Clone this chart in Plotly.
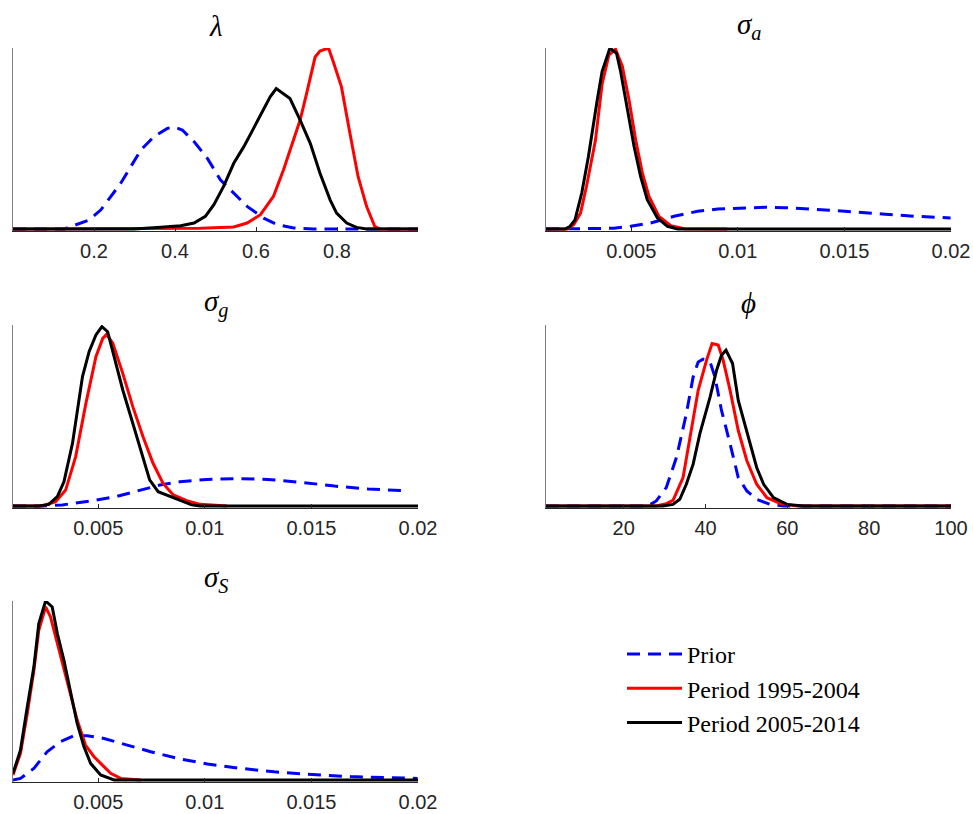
import plotly.graph_objects as go

# ---- lambda ----
lam_prior_x = [0.0, 0.127, 0.188, 0.217, 0.266, 0.316, 0.348, 0.381, 0.400, 0.418, 0.447, 0.480, 0.512, 0.545, 0.578, 0.619, 0.652, 0.693, 0.742, 0.824, 1.0]
lam_prior_y = [0.0, 0.0, 0.05, 0.106, 0.253, 0.437, 0.51, 0.556, 0.563, 0.547, 0.483, 0.39, 0.272, 0.198, 0.125, 0.06, 0.024, 0.006, 0.0, 0.0, 0.0]
lam_p1_x = [0.0, 0.340, 0.463, 0.545, 0.578, 0.611, 0.643, 0.668, 0.693, 0.709, 0.725, 0.746, 0.758, 0.779, 0.791, 0.811, 0.832, 0.852, 0.873, 0.893, 0.906, 1.0]
lam_p1_y = [0.0, 0.0, 0.004, 0.011, 0.033, 0.079, 0.18, 0.327, 0.492, 0.602, 0.749, 0.95, 0.983, 1.0, 0.923, 0.785, 0.528, 0.29, 0.125, 0.015, 0.0, 0.0]
lam_p2_x = [0.0, 0.299, 0.365, 0.414, 0.447, 0.475, 0.496, 0.520, 0.545, 0.570, 0.594, 0.619, 0.635, 0.650, 0.668, 0.684, 0.709, 0.734, 0.758, 0.783, 0.799, 0.824, 0.848, 0.873, 1.0]
lam_p2_y = [0.0, 0.0, 0.009, 0.018, 0.033, 0.07, 0.134, 0.235, 0.363, 0.455, 0.556, 0.657, 0.73, 0.776, 0.749, 0.721, 0.602, 0.473, 0.308, 0.161, 0.088, 0.033, 0.009, 0.0, 0.0]

# ---- sigma_a ----
sa_prior_x = [0.001, 0.00214, 0.00418, 0.00497, 0.00591, 0.00701, 0.00811, 0.00906, 0.0100, 0.01126, 0.0122, 0.01346, 0.01503, 0.01676, 0.01833, 0.01998]
sa_prior_y = [0.0, 0.0, 0.004, 0.015, 0.033, 0.07, 0.098, 0.11, 0.116, 0.12, 0.118, 0.11, 0.098, 0.083, 0.07, 0.061]
sa_p1_x = [0.001, 0.00198, 0.0023, 0.00262, 0.0029, 0.00332, 0.00363, 0.00395, 0.00426, 0.00458, 0.0049, 0.00521, 0.00552, 0.00583, 0.0063, 0.00686, 0.00748, 0.0095]
sa_p1_y = [0.0, 0.0, 0.024, 0.088, 0.236, 0.49, 0.8, 0.96, 0.994, 0.9, 0.71, 0.49, 0.31, 0.18, 0.07, 0.018, 0.002, 0.0]
sa_p2_x = [0.001, 0.0019, 0.00213, 0.00236, 0.00268, 0.00299, 0.0034, 0.00363, 0.0040, 0.00431, 0.0045, 0.00481, 0.00513, 0.00544, 0.00575, 0.00623, 0.0067, 0.00717, 0.02]
sa_p2_y = [0.0, 0.0, 0.015, 0.05, 0.2, 0.4, 0.71, 0.87, 1.0, 0.97, 0.87, 0.66, 0.457, 0.29, 0.162, 0.061, 0.015, 0.0, 0.0]

# ---- sigma_g ----
sg_prior_x = [0.001, 0.00237, 0.00331, 0.00473, 0.00584, 0.00694, 0.00789, 0.00883, 0.01009, 0.01167, 0.01293, 0.01451, 0.01609, 0.01767, 0.01956]
sg_prior_y = [0.0, 0.0, 0.006, 0.029, 0.052, 0.088, 0.116, 0.134, 0.147, 0.151, 0.147, 0.131, 0.11, 0.094, 0.083]
sg_p1_x = [0.001, 0.00237, 0.0030, 0.00347, 0.00394, 0.00442, 0.00489, 0.00521, 0.00539, 0.00568, 0.00615, 0.00662, 0.0071, 0.00757, 0.00804, 0.00852, 0.00915, 0.00978, 0.01104]
sg_p1_y = [0.0, 0.0, 0.024, 0.088, 0.273, 0.567, 0.825, 0.926, 0.948, 0.899, 0.733, 0.549, 0.383, 0.236, 0.125, 0.061, 0.029, 0.009, 0.0]
sg_p2_x = [0.001, 0.00221, 0.00268, 0.00308, 0.00339, 0.00379, 0.00426, 0.00457, 0.00489, 0.00517, 0.00544, 0.00576, 0.00615, 0.00662, 0.0071, 0.00741, 0.00781, 0.00836, 0.00883, 0.00938, 0.00978, 0.02]
sg_p2_y = [0.0, 0.0, 0.009, 0.052, 0.134, 0.346, 0.715, 0.853, 0.945, 0.991, 0.963, 0.825, 0.641, 0.457, 0.273, 0.144, 0.079, 0.052, 0.029, 0.006, 0.0, 0.0]

# ---- phi ----
phi_prior_x = [1, 25.9, 27.95, 30.4, 32.9, 35.3, 36.97, 38.2, 39.4, 41.1, 42.3, 43.9, 46.0, 48.0, 50.1, 52.5, 55.8, 59.1, 100]
phi_prior_y = [0.0, 0.0, 0.028, 0.102, 0.269, 0.509, 0.713, 0.796, 0.811, 0.796, 0.713, 0.528, 0.343, 0.157, 0.083, 0.037, 0.009, 0.0, 0.0]
phi_p1_x = [1, 27.95, 30.4, 32.05, 34.5, 36.1, 38.2, 40.25, 41.6, 43.1, 44.3, 46.0, 48.0, 50.1, 52.5, 55.0, 58.3, 62.4, 100]
phi_p1_y = [0.0, 0.0, 0.013, 0.031, 0.157, 0.361, 0.639, 0.806, 0.898, 0.889, 0.806, 0.639, 0.417, 0.25, 0.12, 0.046, 0.013, 0.0, 0.0]
phi_p2_x = [1, 29.6, 32.05, 33.7, 35.3, 36.97, 38.6, 41.1, 42.7, 43.9, 45.0, 46.6, 48.0, 50.1, 52.5, 54.2, 56.6, 59.9, 64.0, 100]
phi_p2_y = [0.0, 0.0, 0.009, 0.037, 0.12, 0.231, 0.398, 0.602, 0.75, 0.833, 0.861, 0.787, 0.583, 0.417, 0.213, 0.12, 0.046, 0.009, 0.0, 0.0]

# ---- sigma_S ----
ss_prior_x = [0.001, 0.00135, 0.00198, 0.0026, 0.00323, 0.00386, 0.00448, 0.00527, 0.00636, 0.00746, 0.00871, 0.01012, 0.01168, 0.01325, 0.01481, 0.01684, 0.01998]
ss_prior_y = [0.0, 0.009, 0.065, 0.158, 0.214, 0.247, 0.247, 0.232, 0.195, 0.158, 0.121, 0.089, 0.065, 0.046, 0.032, 0.019, 0.009]
ss_p1_x = [0.001, 0.00135, 0.00167, 0.00198, 0.00221, 0.00253, 0.00276, 0.00308, 0.00339, 0.0037, 0.00401, 0.0044, 0.0048, 0.00511, 0.00558, 0.00605, 0.00699]
ss_p1_y = [0.028, 0.149, 0.372, 0.613, 0.836, 0.967, 0.911, 0.762, 0.613, 0.465, 0.335, 0.195, 0.13, 0.093, 0.037, 0.009, 0.0]
ss_p2_x = [0.001, 0.00135, 0.00167, 0.00198, 0.00221, 0.00253, 0.00284, 0.00308, 0.00339, 0.0037, 0.00401, 0.00433, 0.00464, 0.00511, 0.00574, 0.02]
ss_p2_y = [0.037, 0.167, 0.409, 0.632, 0.874, 1.0, 0.967, 0.818, 0.669, 0.483, 0.316, 0.186, 0.093, 0.028, 0.0, 0.0]

series_names = ["Prior", "Period 1995-2004", "Period 2005-2014"]
series_colors = ["#0000FF", "#FF0000", "#000000"]
series_dash = ["13px,8px", "solid", "solid"]

small_ticks = [0.005, 0.01, 0.015, 0.02]
small_text = ["0.005", "0.01", "0.015", "0.02"]

panels = [
    dict(title="<i>λ</i>", data=[(lam_prior_x, lam_prior_y), (lam_p1_x, lam_p1_y), (lam_p2_x, lam_p2_y)],
         xr=[0, 1], ticks=[0.2, 0.4, 0.6, 0.8], ticktext=["0.2", "0.4", "0.6", "0.8"], col=0, row=0),
    dict(title="<i>σ</i><sub><i>a</i></sub>", data=[(sa_prior_x, sa_prior_y), (sa_p1_x, sa_p1_y), (sa_p2_x, sa_p2_y)],
         xr=[0.001, 0.02], ticks=small_ticks, ticktext=small_text, col=1, row=0),
    dict(title="<i>σ</i><sub><i>g</i></sub>", data=[(sg_prior_x, sg_prior_y), (sg_p1_x, sg_p1_y), (sg_p2_x, sg_p2_y)],
         xr=[0.001, 0.02], ticks=small_ticks, ticktext=small_text, col=0, row=1),
    dict(title="<i>ϕ</i>", data=[(phi_prior_x, phi_prior_y), (phi_p1_x, phi_p1_y), (phi_p2_x, phi_p2_y)],
         xr=[1, 100], ticks=[20, 40, 60, 80, 100], ticktext=["20", "40", "60", "80", "100"], col=1, row=1),
    dict(title="<i>σ</i><sub><i>S</i></sub>", data=[(ss_prior_x, ss_prior_y), (ss_p1_x, ss_p1_y), (ss_p2_x, ss_p2_y)],
         xr=[0.001, 0.02], ticks=small_ticks, ticktext=small_text, col=0, row=2),
]

W, H = 973, 814
col_px = [(13, 418), (546, 951)]
row_px = [(48, 229), (325, 506), (601, 780)]  # (top, zero line)
pad = 2

fig = go.Figure()
layout = dict(width=W, height=H, autosize=False, margin=dict(l=0, r=0, t=0, b=0, pad=0),
              template="none", paper_bgcolor="white", plot_bgcolor="white", annotations=[])

for i, p in enumerate(panels):
    k = "" if i == 0 else str(i + 1)
    x0, x1 = col_px[p["col"]]
    top, zero = row_px[p["row"]]
    ymax = 1.0
    ylo = -ymax * pad / (zero - top)
    for j, (xs, ys) in enumerate(p["data"]):
        fig.add_trace(go.Scatter(
            x=xs, y=ys, mode="lines", name=series_names[j],
            line=dict(color=series_colors[j], width=3, dash=series_dash[j]),
            xaxis="x" + k, yaxis="y" + k, legendgroup=series_names[j],
            showlegend=(i == 0), hoverinfo="skip"))
    layout["xaxis" + k] = dict(
        domain=[x0 / W, x1 / W], range=p["xr"], anchor="y" + k, automargin=False,
        tickvals=p["ticks"], ticktext=p["ticktext"], ticks="inside", ticklen=4,
        tickcolor="#262626", showline=True, linecolor="#262626", linewidth=1,
        showgrid=False, zeroline=False, ticklabelstandoff=2,
        tickfont=dict(family="Liberation Sans, Arial, sans-serif", size=20, color="#262626"))
    layout["yaxis" + k] = dict(
        domain=[1 - (zero + pad) / H, 1 - top / H], range=[ylo, ymax], anchor="x" + k,
        automargin=False, showline=True, linecolor="#7f7f7f", linewidth=1,
        showticklabels=False, ticks="", showgrid=False, zeroline=False)
    layout["annotations"].append(dict(
        text=p["title"], xref="paper", yref="paper", x=(x0 + x1) / 2 / W,
        y=1 - (top - 22) / H, xanchor="center", yanchor="middle", showarrow=False,
        font=dict(family="Liberation Serif, DejaVu Serif, serif", size=29, color="black")))

layout["legend"] = dict(
    x=622 / W, y=1 - 632 / H, xanchor="left", yanchor="top", itemwidth=55,
    font=dict(family="Liberation Serif, DejaVu Serif, serif", size=24, color="black"),
    bgcolor="rgba(0,0,0,0)", borderwidth=0, tracegroupgap=0)
layout["showlegend"] = True
fig.update_layout(**layout)
fig.write_html("out.html", config={"responsive": False})
